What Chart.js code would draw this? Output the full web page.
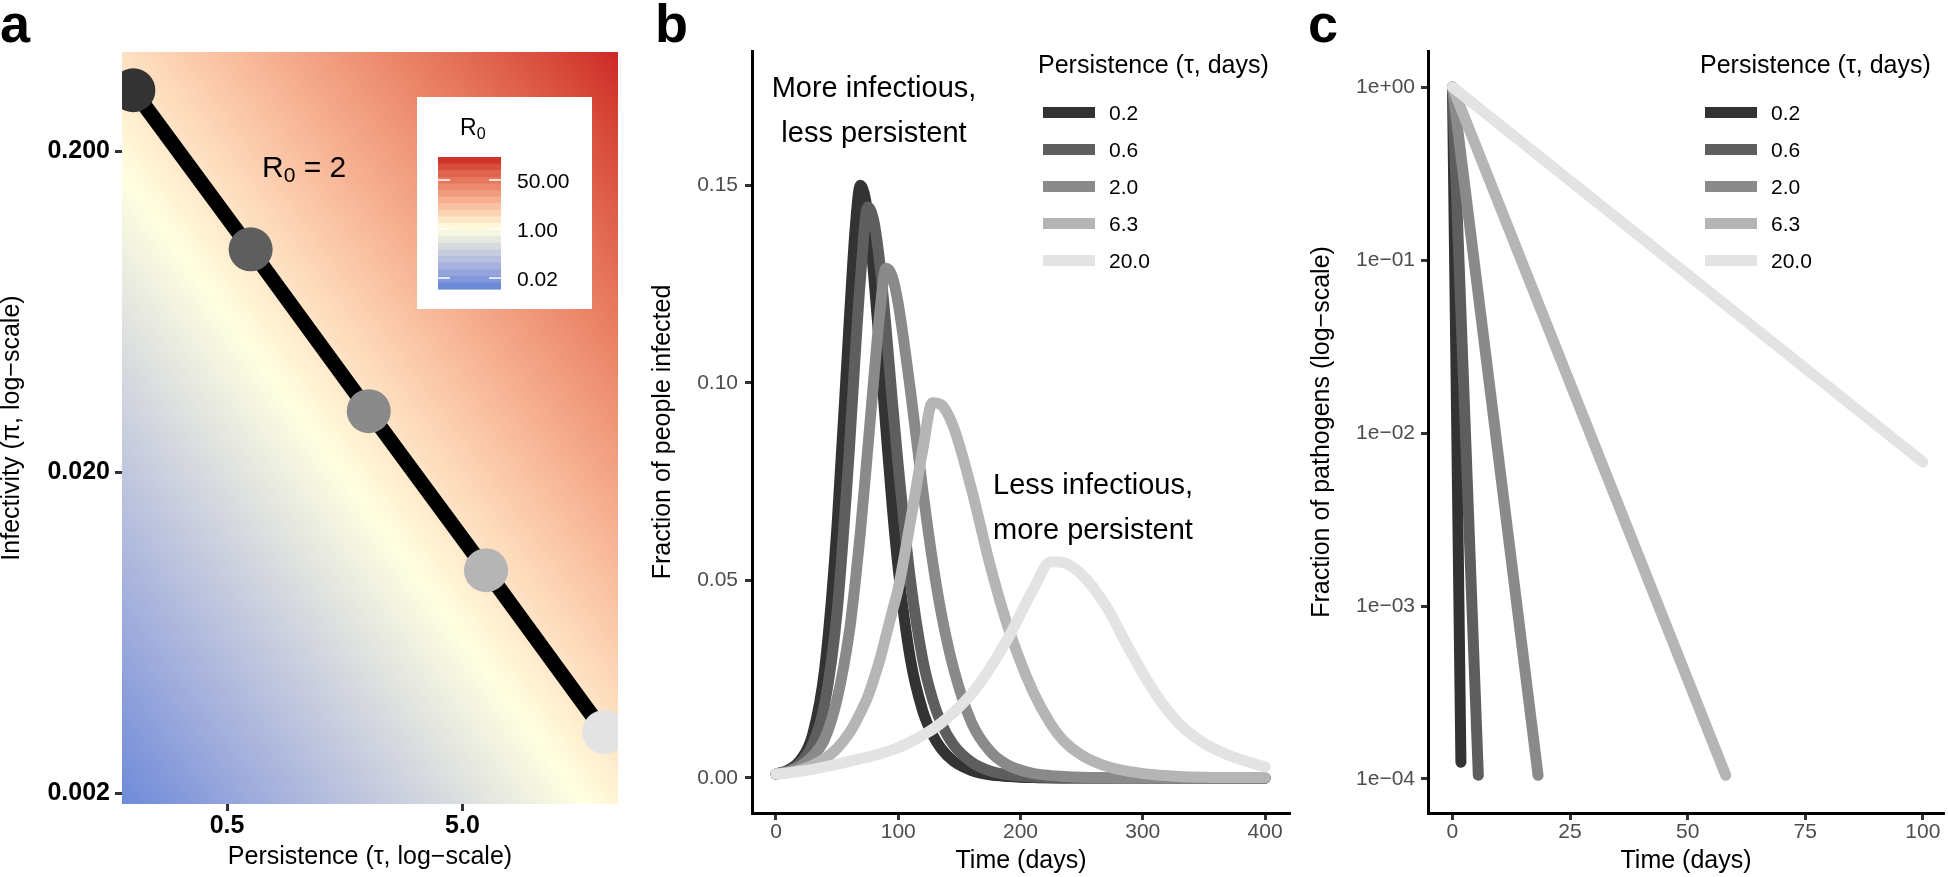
<!DOCTYPE html>
<html>
<head>
<meta charset="utf-8">
<title>Persistence and infectivity</title>
<script src="https://cdn.jsdelivr.net/npm/chart.js@4.4.1/dist/chart.umd.min.js"></script>
<style>
  html, body { margin: 0; padding: 0; background: #fff; }
  body { width: 1948px; height: 877px; position: relative; overflow: hidden;
         font-family: 'Liberation Sans', Arial, Helvetica, sans-serif; }
  canvas { position: absolute; top: 0; }
  .txt { position: absolute; line-height: 1; white-space: nowrap; color: #000; }
  .key { position: absolute; width: 52px; height: 11px; }
  .sub { font-size: 0.7em; position: relative; top: 0.28em; }
</style>
</head>
<body>
<canvas id="panelA" width="640" height="877" style="left:0px"></canvas>
<canvas id="panelB" width="660" height="877" style="left:640px"></canvas>
<canvas id="panelC" width="648" height="877" style="left:1300px"></canvas>
<script>
// ---- panel a : R0 = 2 line in (persistence, infectivity) space
var tauPoints = [0.2, 0.63, 2.0, 6.3, 20.0];
var piPoints = [0.31, 0.099, 0.031, 0.0099, 0.0031];
var r0OnLine = 2;
var tauTicksA = [0.5, 5.0];
var tauTickLabelsA = ['0.5', '5.0'];
var piTicksA = [0.002, 0.02, 0.2];
var piTickLabelsA = ['0.002', '0.020', '0.200'];
var r0LegendValues = [50, 1, 0.02];
var r0LegendLabels = ['50.00', '1.00', '0.02'];

// ---- shared legend
var persistence = ['0.2', '0.6', '2.0', '6.3', '20.0'];

// ---- panel b : fraction of people infected
var daysB = [0, 10, 20, 30, 40, 50, 60, 65, 69, 75, 80, 85, 90, 95, 100, 110, 120, 128, 135, 145,
             160, 175, 190, 210, 225, 235, 250, 270, 290, 310, 330, 350, 370, 400];
var infectedTau02 = [0.001, 0.002, 0.0045, 0.011, 0.028, 0.064, 0.116, 0.140, 0.150, 0.143, 0.127, 0.108,
                     0.088, 0.069, 0.053, 0.030, 0.017, 0.011, 0.0075, 0.0043, 0.0019, 0.0008, 0.0004, 0.0001,
                     0, 0, 0, 0, 0, 0, 0, 0, 0, 0];
var infectedTau06 = [0.001, 0.0018, 0.0038, 0.0085, 0.019, 0.042, 0.083, 0.108, 0.126, 0.1445, 0.141, 0.130,
                     0.114, 0.096, 0.079, 0.050, 0.030, 0.020, 0.014, 0.0085, 0.004, 0.0018, 0.0008, 0.0003,
                     0.0001, 0, 0, 0, 0, 0, 0, 0, 0, 0];
var infectedTau2 = [0.001, 0.0016, 0.003, 0.0055, 0.010, 0.020, 0.037, 0.050, 0.062, 0.083, 0.101, 0.118,
                    0.129, 0.127, 0.120, 0.098, 0.073, 0.055, 0.042, 0.028, 0.014, 0.0068, 0.0032, 0.0012,
                    0.0006, 0.0004, 0.0002, 0.0001, 0, 0, 0, 0, 0, 0];
var infectedTau63 = [0.001, 0.0014, 0.0021, 0.0032, 0.0049, 0.0075, 0.0114, 0.014, 0.0165, 0.0205, 0.025, 0.030,
                     0.036, 0.042, 0.048, 0.065, 0.083, 0.095, 0.0945, 0.089, 0.073, 0.054, 0.038, 0.022,
                     0.0135, 0.0095, 0.0058, 0.003, 0.0016, 0.0008, 0.0004, 0.0002, 0.0001, 0.0001];
var infectedTau20 = [0.001, 0.0013, 0.0017, 0.0022, 0.0028, 0.0035, 0.0042, 0.0046, 0.0049, 0.0053, 0.0057, 0.0061,
                     0.0066, 0.0071, 0.0077, 0.0091, 0.0108, 0.0123, 0.0139, 0.0165, 0.0213, 0.0278, 0.0355, 0.0475,
                     0.0547, 0.0545, 0.0515, 0.0435, 0.032, 0.0215, 0.0137, 0.0088, 0.0058, 0.0028];
var daysTicksB = [0, 100, 200, 300, 400];
var infectedTicksB = [0, 0.05, 0.10, 0.15];
var infectedTickLabelsB = ['0.00', '0.05', '0.10', '0.15'];

// ---- panel c : fraction of pathogens (log)
var daysTau02 = [0, 1.8],  pathogensTau02 = [1, 1.25e-4];
var daysTau06 = [0, 5.5],  pathogensTau06 = [1, 1.05e-4];
var daysTau2 = [0, 18.2],  pathogensTau2 = [1, 1.05e-4];
var daysTau63 = [0, 58.1], pathogensTau63 = [1, 1.05e-4];
var daysTau20 = [0, 100],  pathogensTau20 = [1, 0.0068];
var daysTicksC = [0, 25, 50, 75, 100];
var pathogenTicksC = [1, 0.1, 0.01, 0.001, 0.0001];
var pathogenTickLabelsC = ['1e+00', '1e\u221201', '1e\u221202', '1e\u221203', '1e\u221204'];

var greys = ['#333333', '#5e5e5e', '#8a8a8a', '#b5b5b5', '#e3e3e3'];
var fontFamily = "'Liberation Sans', Arial, Helvetica, sans-serif";
Chart.defaults.font.family = fontFamily;

// ---------- colour ramp (interpolated in CIE Lab, like ggplot)
function hexToRgb(h) { return [parseInt(h.substr(1, 2), 16), parseInt(h.substr(3, 2), 16), parseInt(h.substr(5, 2), 16)]; }
function toLin(c) { c /= 255; return c <= 0.04045 ? c / 12.92 : Math.pow((c + 0.055) / 1.055, 2.4); }
function toSrgb(c) { c = c <= 0.0031308 ? 12.92 * c : 1.055 * Math.pow(c, 1 / 2.4) - 0.055; return Math.round(Math.max(0, Math.min(1, c)) * 255); }
function rgbToLab(rgb) {
    var r = toLin(rgb[0]), g = toLin(rgb[1]), b = toLin(rgb[2]);
    var x = (0.4124 * r + 0.3576 * g + 0.1805 * b) / 0.95047;
    var y = 0.2126 * r + 0.7152 * g + 0.0722 * b;
    var z = (0.0193 * r + 0.1192 * g + 0.9505 * b) / 1.08883;
    var f = function (t) { return t > 0.008856 ? Math.cbrt(t) : 7.787 * t + 16 / 116; };
    var fx = f(x), fy = f(y), fz = f(z);
    return [116 * fy - 16, 500 * (fx - fy), 200 * (fy - fz)];
}
function labToRgb(lab) {
    var fy = (lab[0] + 16) / 116, fx = fy + lab[1] / 500, fz = fy - lab[2] / 200;
    var inv = function (t) { var t3 = t * t * t; return t3 > 0.008856 ? t3 : (t - 16 / 116) / 7.787; };
    var x = 0.95047 * inv(fx), y = inv(fy), z = 1.08883 * inv(fz);
    return [toSrgb(3.2406 * x - 1.5372 * y - 0.4986 * z),
            toSrgb(-0.9689 * x + 1.8758 * y + 0.0415 * z),
            toSrgb(0.0557 * x - 0.2040 * y + 1.0570 * z)];
}
var labLow = rgbToLab(hexToRgb('#2b70d6')), labMid = rgbToLab(hexToRgb('#ffffe0')), labHigh = rgbToLab(hexToRgb('#cd2626'));
var logLimit = 2.48;
var lut = [];
for (var k = 0; k <= 2000; k++) {
    var t = k / 1000 - 1, end = t < 0 ? labLow : labHigh, f = Math.abs(t);
    lut.push(labToRgb([labMid[0] + (end[0] - labMid[0]) * f, labMid[1] + (end[1] - labMid[1]) * f, labMid[2] + (end[2] - labMid[2]) * f]));
}
function r0Colour(logR) {
    var t = Math.max(-1, Math.min(1, logR / logLimit));
    return lut[Math.round((t + 1) * 1000)];
}

var lineProduct = tauPoints.reduce(function (s, t, i) { return s + t * piPoints[i]; }, 0) / tauPoints.length;

// heat map of R0 under the line
var r0FieldPlugin = {
    id: 'r0Field',
    beforeDatasetsDraw: function (chart) {
        var area = chart.chartArea, xs = chart.scales.x, ys = chart.scales.y;
        var w = Math.round(area.right - area.left), h = Math.round(area.bottom - area.top);
        var off = document.createElement('canvas');
        off.width = w; off.height = h;
        var octx = off.getContext('2d');
        var img = octx.createImageData(w, h);
        var logK = Math.log10(r0OnLine / lineProduct);
        var colLog = [], rowLog = [];
        for (var i = 0; i < w; i++) colLog.push(Math.log10(xs.getValueForPixel(area.left + i + 0.5)));
        for (var j = 0; j < h; j++) rowLog.push(Math.log10(ys.getValueForPixel(area.top + j + 0.5)));
        var p = 0;
        for (j = 0; j < h; j++) {
            for (i = 0; i < w; i++) {
                var c = r0Colour(logK + colLog[i] + rowLog[j]);
                img.data[p++] = c[0]; img.data[p++] = c[1]; img.data[p++] = c[2]; img.data[p++] = 255;
            }
        }
        octx.putImageData(img, 0, 0);
        chart.ctx.drawImage(off, area.left, area.top);
    }
};

// colour bar legend
var bar = { left: 438, right: 501, top: 157, bottom: 289, lo: -2.08, hi: 2.5, bins: 20 };
function barY(v) { return bar.bottom - (Math.log10(v) - bar.lo) / (bar.hi - bar.lo) * (bar.bottom - bar.top); }
var r0LegendPlugin = {
    id: 'r0Legend',
    afterDatasetsDraw: function (chart) {
        var ctx = chart.ctx;
        ctx.save();
        ctx.fillStyle = '#ffffff';
        ctx.fillRect(417, 97, 175, 212);
        var bh = (bar.bottom - bar.top) / bar.bins;
        for (var b = 0; b < bar.bins; b++) {
            var v = bar.hi - (b + 0.5) / bar.bins * (bar.hi - bar.lo);
            var c = r0Colour(v);
            ctx.fillStyle = 'rgb(' + c[0] + ',' + c[1] + ',' + c[2] + ')';
            ctx.fillRect(bar.left, bar.top + b * bh, bar.right - bar.left, bh + 0.6);
        }
        ctx.strokeStyle = '#ffffff';
        ctx.lineWidth = 1.5;
        r0LegendValues.forEach(function (v) {
            var y = barY(v);
            ctx.beginPath();
            ctx.moveTo(bar.left, y); ctx.lineTo(bar.left + 12, y);
            ctx.moveTo(bar.right - 12, y); ctx.lineTo(bar.right, y);
            ctx.stroke();
        });
        ctx.restore();
    }
};

function fixedTicks(values) {
    return function (scale) { scale.ticks = values.map(function (v) { return { value: v }; }); };
}
function tickGrid() {
    return { display: true, drawOnChartArea: false, drawTicks: true, tickLength: 7, tickColor: '#333333', tickWidth: 3 };
}

// ---------- panel a
var pointsA = tauPoints.map(function (t, i) { return { x: t, y: piPoints[i] }; });
new Chart(document.getElementById('panelA'), {
    type: 'scatter',
    data: {
        datasets: [{
            type: 'scatter', data: pointsA, pointRadius: 22, pointHoverRadius: 22,
            pointBackgroundColor: greys, pointBorderWidth: 0, clip: 0, order: 0
        }, {
            type: 'line', data: pointsA, borderColor: '#000000', borderWidth: 15,
            pointRadius: 0, fill: false, tension: 0, clip: 0, order: 1
        }]
    },
    options: {
        responsive: false, animation: false, devicePixelRatio: 1, events: [],
        layout: { padding: { left: 0, right: 8, top: 52, bottom: 0 } },
        plugins: { legend: { display: false }, tooltip: { enabled: false } },
        scales: {
            x: {
                type: 'logarithmic', min: 0.179, max: 22.9, bounds: 'data',
                afterBuildTicks: fixedTicks(tauTicksA),
                afterFit: function (s) { s.height = 73; },
                ticks: {
                    callback: function (v, i) { return tauTickLabelsA[i]; },
                    font: { size: 25, weight: 'bold' }, color: '#000000', padding: 0,
                    maxRotation: 0, minRotation: 0, autoSkip: false
                },
                grid: tickGrid(), border: { display: false },
                title: { display: true, text: 'Persistence (\u03c4, log\u2212scale)', color: '#000000',
                         font: { size: 25, lineHeight: 1 }, padding: { top: 0, bottom: 7.5 } }
            },
            y: {
                type: 'logarithmic', min: 0.00185, max: 0.408, bounds: 'data',
                afterBuildTicks: fixedTicks(piTicksA),
                afterFit: function (s) { s.width = 122; },
                ticks: {
                    callback: function (v, i) { return piTickLabelsA[i]; },
                    font: { size: 25, weight: 'bold' }, color: '#000000', padding: 5, autoSkip: false
                },
                grid: tickGrid(), border: { display: false },
                title: { display: true, text: 'Infectivity (\u03c0, log\u2212scale)', color: '#000000',
                         font: { size: 25, lineHeight: 1 }, padding: { top: 0, bottom: 0 } }
            }
        }
    },
    plugins: [r0FieldPlugin, r0LegendPlugin]
});

// ---------- panel b
var infectedSeries = [infectedTau02, infectedTau06, infectedTau2, infectedTau63, infectedTau20];
new Chart(document.getElementById('panelB'), {
    type: 'line',
    data: {
        datasets: infectedSeries.map(function (vals, i) {
            return {
                label: persistence[i],
                data: daysB.map(function (d, j) { return { x: d, y: vals[j] }; }),
                borderColor: greys[i], borderWidth: 11, pointRadius: 0, fill: false,
                cubicInterpolationMode: 'monotone', borderCapStyle: 'round', borderJoinStyle: 'round',
                order: infectedSeries.length - 1 - i
            };
        })
    },
    options: {
        responsive: false, animation: false, devicePixelRatio: 1, events: [],
        layout: { padding: { left: 0, right: 10, top: 51, bottom: 0 } },
        plugins: { legend: { display: false }, tooltip: { enabled: false } },
        scales: {
            x: {
                type: 'linear', min: -19.6, max: 420.4, bounds: 'data',
                afterBuildTicks: fixedTicks(daysTicksB),
                afterFit: function (s) { s.height = 64; },
                ticks: { font: { size: 21 }, color: '#4d4d4d', padding: 0, maxRotation: 0, autoSkip: false },
                grid: tickGrid(), border: { display: true, color: '#000000', width: 3 },
                title: { display: true, text: 'Time (days)', color: '#000000',
                         font: { size: 25, lineHeight: 1 }, padding: { top: 0, bottom: 3.5 } }
            },
            y: {
                type: 'linear', min: -0.00886, max: 0.184, bounds: 'data',
                afterBuildTicks: fixedTicks(infectedTicksB),
                afterFit: function (s) { s.width = 112; },
                ticks: {
                    callback: function (v, i) { return infectedTickLabelsB[i]; },
                    font: { size: 21 }, color: '#4d4d4d', padding: 7, autoSkip: false
                },
                grid: tickGrid(), border: { display: true, color: '#000000', width: 3 },
                title: { display: true, text: 'Fraction of people infected', color: '#000000',
                         font: { size: 25, lineHeight: 1 }, padding: { top: 10.5, bottom: 0 } }
            }
        }
    }
});

// ---------- panel c
var pathogenDays = [daysTau02, daysTau06, daysTau2, daysTau63, daysTau20];
var pathogenSeries = [pathogensTau02, pathogensTau06, pathogensTau2, pathogensTau63, pathogensTau20];
new Chart(document.getElementById('panelC'), {
    type: 'line',
    data: {
        datasets: pathogenSeries.map(function (vals, i) {
            return {
                label: persistence[i],
                data: pathogenDays[i].map(function (d, j) { return { x: d, y: vals[j] }; }),
                borderColor: greys[i], borderWidth: 11, pointRadius: 0, fill: false, tension: 0,
                borderCapStyle: 'round', borderJoinStyle: 'round',
                order: pathogenSeries.length - 1 - i
            };
        })
    },
    options: {
        responsive: false, animation: false, devicePixelRatio: 1, events: [],
        layout: { padding: { left: 0, right: 4, top: 51, bottom: 0 } },
        plugins: { legend: { display: false }, tooltip: { enabled: false } },
        scales: {
            x: {
                type: 'linear', min: -5.2, max: 104.5, bounds: 'data',
                afterBuildTicks: fixedTicks(daysTicksC),
                afterFit: function (s) { s.height = 64; },
                ticks: { font: { size: 21 }, color: '#4d4d4d', padding: 0, maxRotation: 0, autoSkip: false },
                grid: tickGrid(), border: { display: true, color: '#000000', width: 3 },
                title: { display: true, text: 'Time (days)', color: '#000000',
                         font: { size: 25, lineHeight: 1 }, padding: { top: 0, bottom: 3.5 } }
            },
            y: {
                type: 'logarithmic', min: 6.36e-5, max: 1.615, bounds: 'data',
                afterBuildTicks: fixedTicks(pathogenTicksC),
                afterFit: function (s) { s.width = 128; },
                ticks: {
                    callback: function (v, i) { return pathogenTickLabelsC[i]; },
                    font: { size: 21 }, color: '#4d4d4d', padding: 6, autoSkip: false
                },
                grid: tickGrid(), border: { display: true, color: '#000000', width: 3 },
                title: { display: true, text: 'Fraction of pathogens (log\u2212scale)', color: '#000000',
                         font: { size: 25, lineHeight: 1 }, padding: { top: 9.5, bottom: 0 } }
            }
        }
    }
});

// ---------- free text: panel letters, notes, legends
function addText(html, x, baseline, size, align, bold) {
    var d = document.createElement('div');
    d.className = 'txt';
    d.innerHTML = html;
    d.style.fontSize = size + 'px';
    d.style.left = x + 'px';
    d.style.top = (baseline - 0.8465 * size) + 'px';
    if (bold) d.style.fontWeight = 'bold';
    if (align === 'center') d.style.transform = 'translateX(-50%)';
    if (align === 'right') d.style.transform = 'translateX(-100%)';
    document.body.appendChild(d);
}
addText('a', 0, 42, 54, 'left', true);
addText('b', 655, 42, 54, 'left', true);
addText('c', 1308, 42, 54, 'left', true);

addText('R<span class="sub">0</span> = 2', 262, 177, 30, 'left');
addText('R<span class="sub">0</span>', 460, 135, 23, 'left');
r0LegendValues.forEach(function (v, i) {
    addText(r0LegendLabels[i], 517, barY(v) + 7.5, 21, 'left');
});

addText('More infectious,', 874, 98, 29, 'center');
addText('less persistent', 874, 143, 29, 'center');
addText('Less infectious,', 1093, 495, 29, 'center');
addText('more persistent', 1093, 540, 29, 'center');

function addLegend(titleX) {
    addText('Persistence (\u03c4, days)', titleX, 73, 25, 'left');
    persistence.forEach(function (p, i) {
        var cy = 112 + i * 37;
        var key = document.createElement('div');
        key.className = 'key';
        key.style.left = (titleX + 5) + 'px';
        key.style.top = (cy - 5.5) + 'px';
        key.style.background = greys[i];
        document.body.appendChild(key);
        addText(p, titleX + 71, cy + 7.5, 21, 'left');
    });
}
addLegend(1038);
addLegend(1700);
</script>
</body>
</html>
